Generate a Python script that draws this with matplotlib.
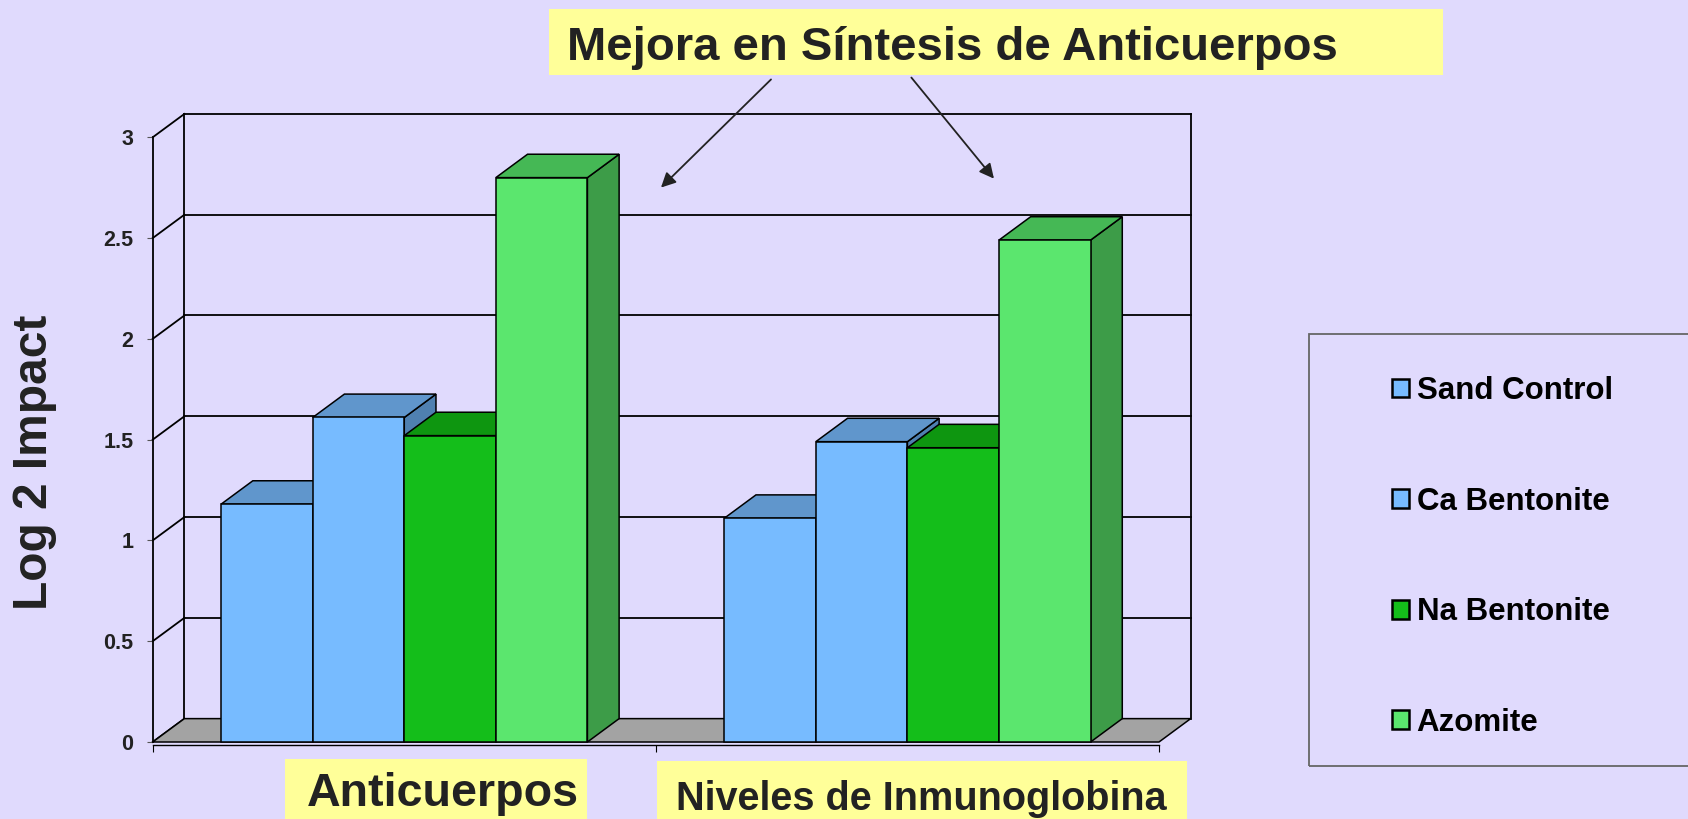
import matplotlib.pyplot as plt
from matplotlib.patches import Polygon, Rectangle, FancyArrowPatch

plt.rcParams['font.family'] = ['Liberation Sans', 'DejaVu Sans']
plt.rcParams['font.weight'] = 'bold'

# datos
categorias = ['Anticuerpos', 'Niveles de Inmunoglobina']
series = ['Sand Control', 'Ca Bentonite', 'Na Bentonite', 'Azomite']
sand_control = [1.18, 1.11]
ca_bentonite = [1.61, 1.49]
na_bentonite = [1.52, 1.46]
azomite = [2.80, 2.49]
valores = [sand_control, ca_bentonite, na_bentonite, azomite]
y_ticks = [0, 0.5, 1, 1.5, 2, 2.5, 3]
y_ticklabels = ['0', '0.5', '1', '1.5', '2', '2.5', '3']
titulo = 'Mejora en Síntesis de Anticuerpos'

# estilo
bg = '#E0DAFD'
amarillo = '#FFFF99'
txt = '#222222'
frente = ['#77BBFF', '#77BBFF', '#14BE1A', '#5BE66E']
arriba = ['#6096CC', '#6096CC', '#0E9610', '#45B855']
lado = ['#4F80B0', '#4F80B0', '#0B7A0D', '#3D9C48']
DX, DY = 0.063, 0.116   # profundidad 3D en unidades de datos
w = 0.182

W, H = 1688, 819
fig = plt.figure(figsize=(W / 100, H / 100), dpi=100, facecolor=bg)
ax = fig.add_axes([152.7 / W, 77 / H, 1006.3 / W, 604.7 / H])
ax.set_facecolor('none')
ax.set_xlim(0, 2)
ax.set_ylim(0, 3)

# pared del fondo y lateral
for y in y_ticks:
    if y > 0:
        ax.plot([DX, 2 + DX], [y + DY, y + DY], color='black', lw=1.3, zorder=1, clip_on=False)
    ax.plot([0, DX], [y, y + DY], color='black', lw=1.3, zorder=1, clip_on=False)
ax.plot([DX, DX], [DY, 3 + DY], color='black', lw=1.3, zorder=1, clip_on=False)
ax.plot([2 + DX, 2 + DX], [DY, 3 + DY], color='black', lw=1.3, zorder=1, clip_on=False)

# piso
ax.add_patch(Polygon([(0, 0), (2, 0), (2 + DX, DY), (DX, DY)], closed=True,
                     facecolor='#A3A3A3', edgecolor='black', lw=1.1, zorder=2, clip_on=False))

centros = [0.5, 1.5]
handles = []
for i, (nombre, vals) in enumerate(zip(series, valores)):
    xs = [c + (i - 1.5) * w for c in centros]
    z = 3 + 3 * i
    for x, v in zip(xs, vals):
        r = x + w / 2
        l = x - w / 2
        ax.add_patch(Polygon([(r, 0), (r + DX, DY), (r + DX, v + DY), (r, v)], closed=True,
                             facecolor=lado[i], edgecolor='black', lw=1.1, zorder=z, clip_on=False))
        ax.add_patch(Polygon([(l, v), (r, v), (r + DX, v + DY), (l + DX, v + DY)], closed=True,
                             facecolor=arriba[i], edgecolor='black', lw=1.1, zorder=z + 1, clip_on=False))
    b = ax.bar(xs, vals, width=w, color=frente[i], edgecolor='black', lw=1.1,
               zorder=z + 2, label=nombre, clip_on=False)
    handles.append(b)

for s in ['top', 'right']:
    ax.spines[s].set_visible(False)
ax.spines['bottom'].set_position(('outward', 2))
ax.spines['left'].set_linewidth(1.3)
ax.spines['bottom'].set_linewidth(1.0)
ax.set_xticks([0, 1, 2])
ax.set_xticklabels([])
ax.set_yticks(y_ticks)
ax.set_yticklabels(y_ticklabels, fontsize=15.5, fontweight='bold', color=txt)
ax.tick_params(axis='y', length=4, pad=10, color='#555555')
ax.tick_params(axis='x', length=5)

fig.text(35 / W, 1 - 462 / H, 'Log 2 Impact', rotation=90, fontsize=34.5,
         fontweight='bold', color=txt, ha='center', va='center')

# titulo
fig.add_artist(Rectangle((549 / W, 1 - 75.4 / H), 893.5 / W, 66.8 / H,
                         transform=fig.transFigure, facecolor=amarillo, edgecolor='none'))
fig.text(567 / W, 1 - 48.4 / H, titulo, fontsize=34, fontweight='bold', color=txt,
         ha='left', va='center')
for (x0, y0), (x1, y1) in [((773, 77.5), (659, 189.5)), ((909.6, 75.4), (995.7, 180.8))]:
    fig.add_artist(FancyArrowPatch((x0 / W, 1 - y0 / H), (x1 / W, 1 - y1 / H),
                                   transform=fig.transFigure, arrowstyle='-|>',
                                   mutation_scale=22, color='#222222', lw=1.3))

# etiquetas de categoria
cajas = [(285.3, 759, 302, 62, 306.8, 794.5, 33.6), (656.7, 761, 530.7, 60, 676, 799, 28.5)]
for cat, (bx, by, bw, bh, tx, ty, fs) in zip(categorias, cajas):
    fig.add_artist(Rectangle((bx / W, 1 - (by + bh) / H), bw / W, bh / H,
                             transform=fig.transFigure, facecolor=amarillo, edgecolor='none'))
    fig.text(tx / W, 1 - ty / H, cat, fontsize=fs, fontweight='bold', color=txt,
             ha='left', va='center')

# leyenda
fig.add_artist(Rectangle((1309.3 / W, 1 - 766 / H), 400 / W, 432 / H,
                         transform=fig.transFigure, facecolor='none', edgecolor='#666666', lw=1.3))
leg = fig.legend(handles=handles, labels=series, loc='upper left',
                 bbox_to_anchor=(1391.7 / W, 1 - 376 / H), frameon=False,
                 prop={'size': 22.5, 'weight': 'bold'}, handlelength=0.55, handleheight=0.55,
                 handletextpad=0.25, labelspacing=2.58, borderpad=0, borderaxespad=0)
for h in leg.legend_handles:
    h.set_linewidth(1.8)

fig.savefig('out.png', dpi=100, facecolor=bg)
